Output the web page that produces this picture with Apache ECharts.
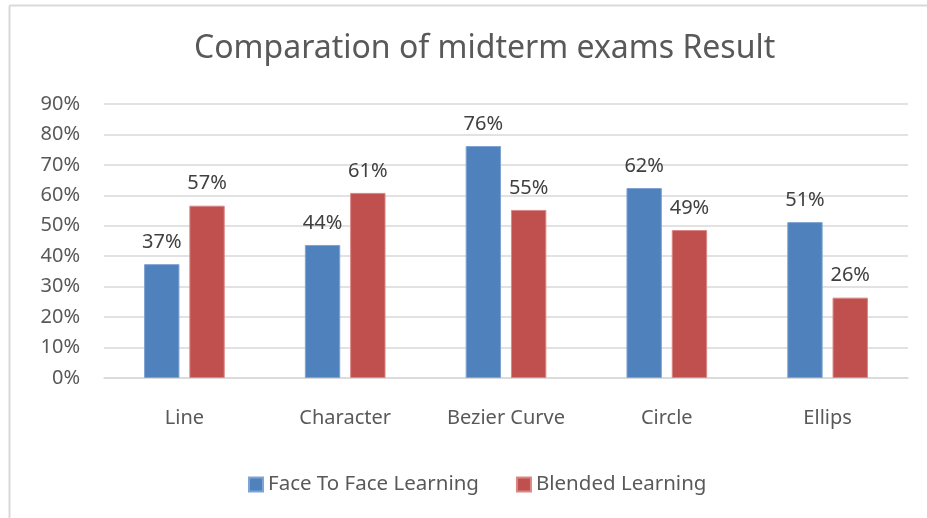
<!DOCTYPE html>
<html><head><meta charset="utf-8">
<script src="https://cdn.jsdelivr.net/npm/echarts@6/dist/echarts.min.js"></script>
<style>html,body{margin:0;padding:0;background:#fff}#c{width:927px;height:518px}</style>
</head><body><div id="c"></div>
<script>
const categories = ['Line', 'Character', 'Bezier Curve', 'Circle', 'Ellips'];
const faceToFace = [37.4, 43.7, 76.2, 62.4, 51.2];
const blended = [56.6, 60.8, 55.2, 48.6, 26.4];
const seriesNames = ['Face To Face Learning', 'Blended Learning'];
const yTicks = { min: 0, max: 90, interval: 10 };
const FONT = '"Noto Sans", "Open Sans", sans-serif';
const TXT = '#595959';
const chart = echarts.init(document.getElementById('c'));
function lbl(p){ return Math.round(p.value) + '%'; }
chart.setOption({
  animation: false,
  textStyle: { fontFamily: FONT },
  title: { text: 'Comparation of midterm exams Result', left: 189, top: 28,
    textStyle: { fontFamily: FONT, fontSize: 32, fontWeight: 'normal', color: TXT } },
  legend: { bottom: 18, left: 243, itemWidth: 14, itemHeight: 14, itemGap: 37,
    icon: 'rect', textStyle: { fontFamily: FONT, fontSize: 20.5, color: TXT },
    data: seriesNames },
  grid: { left: 104, right: 19, top: 104, bottom: 140, containLabel: false },
  xAxis: { type: 'category', data: categories,
    axisLine: { lineStyle: { color: '#d9d9d9', width: 1.5 } }, axisTick: { show: false },
    axisLabel: { fontSize: 20, color: TXT, margin: 30, fontFamily: FONT } },
  yAxis: { type: 'value', min: yTicks.min, max: yTicks.max, interval: yTicks.interval,
    axisLine: { show: false }, axisTick: { show: false },
    splitLine: { lineStyle: { color: '#d9d9d9', width: 1.5 } },
    axisLabel: { fontSize: 20, color: TXT, margin: 24, fontFamily: FONT, formatter: '{value}%' } },
  series: [
    { name: seriesNames[0], type: 'bar', data: faceToFace, barWidth: '22%', barGap: '28%',
      itemStyle: { color: '#4F81BD', borderColor: '#7fa3d3', borderWidth: 1 },
      label: { show: true, position: 'top', distance: 12, fontSize: 20, color: '#404040', fontFamily: FONT, formatter: lbl } },
    { name: seriesNames[1], type: 'bar', data: blended, barWidth: '22%',
      itemStyle: { color: '#C0504D', borderColor: '#d98886', borderWidth: 1 },
      label: { show: true, position: 'top', distance: 12, fontSize: 20, color: '#404040', fontFamily: FONT, formatter: lbl } }
  ],
  graphic: [
    { type: 'line', shape: { x1: 9.5, y1: 5.5, x2: 927, y2: 5.5 }, style: { stroke: '#d9d9d9', lineWidth: 2 } },
    { type: 'line', shape: { x1: 9.5, y1: 5.5, x2: 9.5, y2: 518 }, style: { stroke: '#d9d9d9', lineWidth: 2 } }
  ]
});
</script></body></html>
